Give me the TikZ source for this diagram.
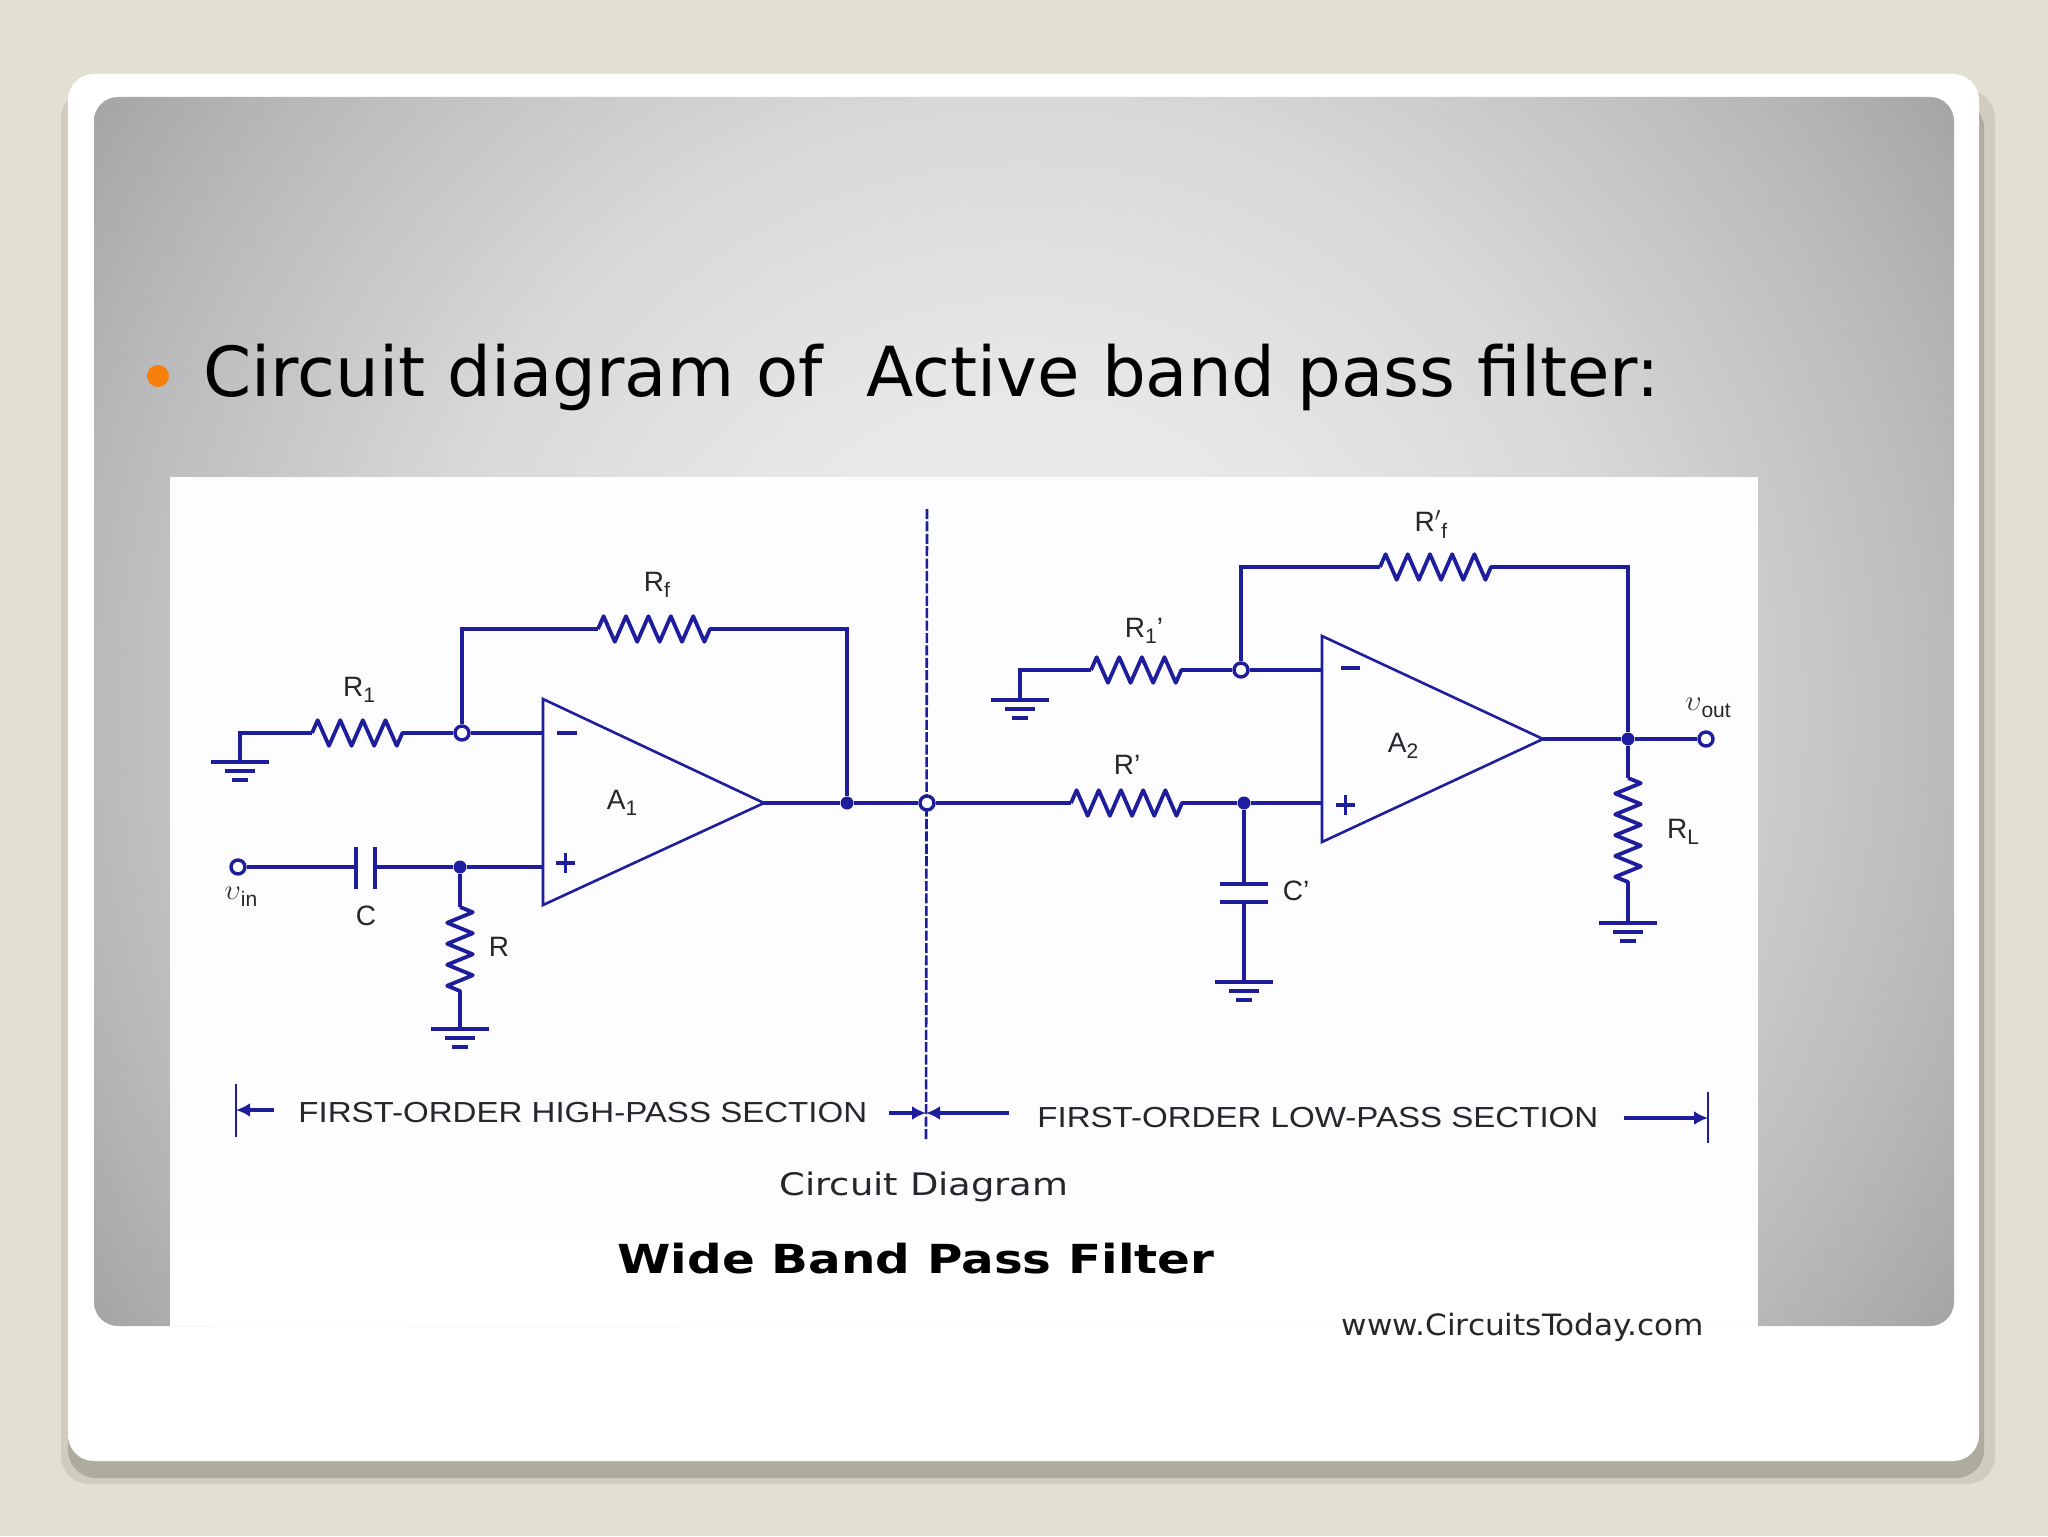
\documentclass[tikz,border=0pt]{standalone}
\usepackage{fontspec}
\setmainfont{Liberation Sans}
\newfontfamily\slidefont{DejaVu Sans}
\usetikzlibrary{arrows.meta,decorations.pathmorphing}

\definecolor{slidebg}{HTML}{E2DFD3}
\definecolor{shadowsoft}{HTML}{D0CDBF}
\definecolor{shadowhard}{HTML}{AEAC9F}
\definecolor{wirecol}{HTML}{1E1E9C}
\definecolor{inkcol}{HTML}{26262B}
\definecolor{bulletcol}{HTML}{F57F0A}
\definecolor{photocol}{HTML}{FDFDFF}
\definecolor{glowa}{HTML}{E9E9EB}
\definecolor{glowb}{HTML}{D8D8DA}
\definecolor{glowc}{HTML}{BABABC}
\definecolor{glowd}{HTML}{A5A4A6}
\definecolor{glowe}{HTML}{A0A0A2}

\pgfdeclareradialshading{slideglow}{\pgfpoint{0bp}{0bp}}{
	color(0bp)=(glowa);
	color(6bp)=(glowa);
	color(12.8bp)=(glowb);
	color(19.4bp)=(glowc);
	color(23.2bp)=(glowd);
	color(25bp)=(glowe);
	color(50bp)=(glowe)}

\newcommand{\partsub}[1]{\raisebox{-0.45ex}{\fontsize{10.5}{12}\selectfont #1}}

\tikzset{
	wire/.style={draw=wirecol, line width=1.7pt, line join=miter},
	ampbody/.style={draw=wirecol, line width=1.3pt, line join=miter},
	res/.style={draw=wirecol, line width=1.9pt, line join=round, decorate, decoration={zigzag, segment length=#1, amplitude=6.4pt}},
	opendot/.style={circle, draw=wirecol, line width=1.7pt, fill=photocol, minimum size=7pt, inner sep=0pt},
	fulldot/.style={circle, fill=wirecol, minimum size=6.5pt, inner sep=0pt},
	partlabel/.style={text=inkcol, inner sep=0pt, font=\fontsize{14}{16}\selectfont},
	seclabel/.style={text=inkcol, inner sep=0pt, font=\addfontfeature{FakeStretch=1.14}\fontsize{14.5}{16}\selectfont},
	secarrow/.style={draw=wirecol, line width=1.7pt, -{Latex[length=7pt,width=7pt]}},
	secbar/.style={draw=wirecol, line width=1.1pt},
	earth/.pic={
		\draw[wirecol, line width=1.6pt] (-29,0) -- (29,0);
		\draw[wirecol, line width=1.6pt] (-15,9) -- (15,9);
		\draw[wirecol, line width=1.6pt] (-8,18) -- (8,18);
	}
}

\begin{document}
\begin{tikzpicture}[x=0.5pt, y=-0.5pt]
	\useasboundingbox (0,0) rectangle (2048,1536);

	% slide
	\fill[slidebg] (0,0) rectangle (2048,1536);
	\fill[shadowsoft, rounded corners=14pt] (61,90) rectangle (1995,1484);
	\fill[shadowhard, rounded corners=14pt] (68,100) rectangle (1984,1478);
	\fill[white, rounded corners=13pt] (68,74) rectangle (1979,1461);
	\begin{scope}
		\clip[rounded corners=12pt] (94,97) rectangle (1954,1326);
		\shade[shading=slideglow] (-176,-489) rectangle (2224,1911);
	\end{scope}
	\fill[bulletcol] (158,376) circle (11);
	\node[anchor=base west, inner sep=0pt, font=\slidefont\fontsize{34.5}{40}\selectfont] (title) at (203,396) {Circuit diagram of~~Active band pass filter:};
	\fill[white] (170,477) rectangle (1758,1326);
	\fill[photocol] (170,477) rectangle (1758,1240);

	% coordinates of the high-pass section
	\coordinate (g1) at (240,762);
	\coordinate (r1a) at (312,733);
	\coordinate (r1b) at (403,733);
	\coordinate (rfa) at (598,629);
	\coordinate (rfb) at (711,629);
	\coordinate (a1m) at (543,733);
	\coordinate (a1p) at (543,867);
	\coordinate (a1t) at (543,699);
	\coordinate (a1b) at (543,905);
	\coordinate (a1o) at (764,803);
	\coordinate (c1a) at (356,867);
	\coordinate (c1b) at (375,867);
	\coordinate (ra) at (460,907);
	\coordinate (rb) at (460,992);
	\coordinate (g2) at (460,1029);

	% coordinates of the low-pass section
	\coordinate (g3) at (1020,700);
	\coordinate (r2a) at (1091,670);
	\coordinate (r2b) at (1183,670);
	\coordinate (rgra) at (1380,567);
	\coordinate (rgrb) at (1492,567);
	\coordinate (rpa) at (1071,803);
	\coordinate (rpb) at (1183,803);
	\coordinate (a2m) at (1322,670);
	\coordinate (a2p) at (1322,803);
	\coordinate (a2t) at (1322,636);
	\coordinate (a2b) at (1322,842);
	\coordinate (a2o) at (1543,739);
	\coordinate (cpa) at (1244,884);
	\coordinate (cpb) at (1244,902);
	\coordinate (g4) at (1244,982);
	\coordinate (rla) at (1628,778);
	\coordinate (rlb) at (1628,883);
	\coordinate (g5) at (1628,923);

	% dashed divider
	\coordinate (dt) at (927,509);
	\coordinate (db) at (926,1140);
	\draw[wirecol, line width=1.3pt, dash pattern=on 5pt off 1.2pt] (dt) -- (db);

	% junctions
	\node[opendot] (n1) at (462,733) {};
	\node[opendot] (vin) at (238,867) {};
	\node[fulldot] (n2) at (460,867) {};
	\node[fulldot] (n3) at (847,803) {};
	\node[opendot] (n4) at (927,803) {};
	\node[opendot] (n5) at (1241,670) {};
	\node[fulldot] (n6) at (1244,803) {};
	\node[fulldot] (n7) at (1628,739) {};
	\node[opendot] (vout) at (1706,739) {};

	% first amplifier
	\draw[ampbody] (a1t) -- (a1b) -- (a1o) -- cycle;
	\draw[wire] (g1) |- (r1a);
	\draw[res=11.3pt] (r1a) -- (r1b);
	\draw[wire] (r1b) -- (n1);
	\draw[wire] (n1) -- (a1m);
	\draw[wire] (n1) |- (rfa);
	\draw[res=11.2pt] (rfa) -- (rfb);
	\draw[wire] (rfb) -| (n3);
	\draw[wire] (a1o) -- (n3);
	\draw[wire] (n3) -- (n4);
	\draw[wire] (vin) -- (c1a);
	\draw[wire] (c1b) -- (n2);
	\draw[wire] (n2) -- (a1p);
	\draw[wire] (356,847) -- (356,889);
	\draw[wire] (375,847) -- (375,889);
	\draw[wire] (n2) -- (ra);
	\draw[res=10.5pt] (ra) -- (rb);
	\draw[wire] (rb) -- (g2);
	\pic at (g1) {earth};
	\pic at (g2) {earth};
	\draw[wirecol, line width=1.6pt] (557,733) -- (577,733);
	\draw[wirecol, line width=1.6pt] (556,863) -- (575,863) (565.5,853) -- (565.5,873);

	% second amplifier
	\draw[ampbody] (a2t) -- (a2b) -- (a2o) -- cycle;
	\draw[wire] (g3) |- (r2a);
	\draw[res=11.3pt] (r2a) -- (r2b);
	\draw[wire] (r2b) -- (n5);
	\draw[wire] (n5) -- (a2m);
	\draw[wire] (n5) |- (rgra);
	\draw[res=11.1pt] (rgra) -- (rgrb);
	\draw[wire] (rgrb) -| (n7);
	\draw[wire] (a2o) -- (n7);
	\draw[wire] (n7) -- (vout);
	\draw[wire] (n4) -- (rpa);
	\draw[res=11.1pt] (rpa) -- (rpb);
	\draw[wire] (rpb) -- (n6);
	\draw[wire] (n6) -- (a2p);
	\draw[wire] (n6) -- (cpa);
	\draw[wire] (1220,884) -- (1268,884);
	\draw[wire] (1220,902) -- (1268,902);
	\draw[wire] (cpb) -- (g4);
	\draw[wire] (n7) -- (rla);
	\draw[res=10.4pt] (rla) -- (rlb);
	\draw[wire] (rlb) -- (g5);
	\pic at (g3) {earth};
	\pic at (g4) {earth};
	\pic at (g5) {earth};
	\draw[wirecol, line width=1.6pt] (1341,668) -- (1360,668);
	\draw[wirecol, line width=1.6pt] (1336,805) -- (1355,805) (1345.5,795) -- (1345.5,815);

	% labels
	\node[partlabel] (lr1) at (359,690) {R\partsub{1}};
	\node[partlabel] (lrf) at (657,585) {R\partsub{f}};
	\node[partlabel] (la1) at (622,803) {A\partsub{1}};
	\node[partlabel] (lc) at (366,916) {C};
	\node[partlabel] (lr) at (499,947) {R};
	\node[partlabel] (lvin) at (241,897) {$\upsilon$\partsub{in}};
	\node[partlabel] (lrgr) at (1431,524) {R$'$\partsub{f}};
	\node[partlabel] (lr2) at (1144,631) {R\partsub{1}'};
	\node[partlabel] (lrp) at (1127,765) {R'};
	\node[partlabel] (la2) at (1403,746) {A\partsub{2}};
	\node[partlabel] (lcp) at (1296,891) {C'};
	\node[partlabel] (lrl) at (1683,832) {R\partsub{L}};
	\node[partlabel] (lvout) at (1708,708) {$\upsilon$\partsub{out}};

	% section marks
	\coordinate (s1) at (236,1110);
	\coordinate (s2) at (1708,1118);
	\coordinate (s3) at (926,1113);
	\draw[secbar] (236,1084) -- (236,1137);
	\draw[secbar] (1708,1092) -- (1708,1143);
	\node[seclabel, anchor=west] (hp) at (298,1112) {FIRST-ORDER HIGH-PASS SECTION};
	\node[seclabel, anchor=west] (lp) at (1037,1117) {FIRST-ORDER LOW-PASS SECTION};
	\coordinate (s1a) at (274,1110);
	\coordinate (s3a) at (889,1113);
	\coordinate (s3b) at (1009,1113);
	\coordinate (s2a) at (1624,1118);
	\draw[secarrow] (s1a) -- (s1);
	\draw[secarrow] (s3a) -- (s3);
	\draw[secarrow] (s3b) -- (s3);
	\draw[secarrow] (s2a) -- (s2);

	% captions
	\node[inner sep=0pt, text=inkcol, font=\slidefont\addfontfeature{FakeStretch=1.19}\fontsize{15.5}{20}\selectfont] (cap1) at (924,1187) {Circuit Diagram};
	\node[inner sep=0pt, text=black, font=\slidefont\bfseries\addfontfeature{FakeStretch=1.21}\fontsize{20}{25}\selectfont] (cap2) at (916,1259) {Wide Band Pass Filter};
	\node[inner sep=0pt, text=inkcol, font=\slidefont\addfontfeature{FakeStretch=1.06}\fontsize{14.7}{18}\selectfont] (cap3) at (1523,1327) {www.CircuitsToday.com};
\end{tikzpicture}
\end{document}
